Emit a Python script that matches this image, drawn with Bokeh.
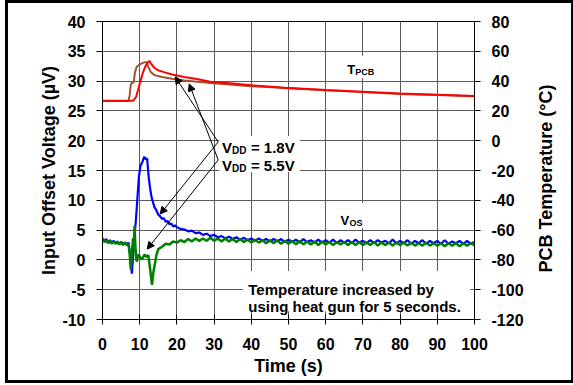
from bokeh.plotting import figure
from bokeh.layouts import row
from bokeh.models import (Range1d, LinearAxis, FixedTicker, Label, Arrow,
                          NormalHead, BoxAnnotation, PrintfTickFormatter)
from bokeh.embed import file_html
from bokeh.resources import INLINE

# ---------------- data ----------------
x_ticks = [0, 10, 20, 30, 40, 50, 60, 70, 80, 90, 100]
vos_ticks = [-10, -5, 0, 5, 10, 15, 20, 25, 30, 35, 40]
temp_ticks = [-120, -100, -80, -60, -40, -20, 0, 20, 40, 60, 80]

# VOS, VDD = 1.8V (blue), microvolts
blue_t = [0, 0.5, 1, 1.5, 2, 2.5, 3, 3.5, 4, 4.5, 5, 5.5, 6, 6.5, 7.0, 7.3, 7.6, 7.9, 8.2, 8.6,
          9.0, 9.4, 9.8, 10.2, 10.7, 11.2, 11.6, 12.0, 12.4, 12.8, 13.2, 13.6, 14.0, 14.5, 15.0,
          15.5, 16.0, 16.5, 17.0, 17.5, 18.0, 18.5, 19.0, 19.5] + list(range(20, 101))
blue_v = [3.6, 3.2, 3.5, 3.0, 3.3, 2.9, 3.2, 2.8, 3.1, 2.7, 3.0, 2.6, 2.9, 2.6, 2.9, 1.5, -0.5, -2.3, 0.5, 4.0,
          6.8, 10.5, 14.0, 15.8, 16.4, 17.3, 16.9, 17.0, 14.0, 12.0, 10.5, 9.6, 8.8, 8.3, 7.6,
          7.3, 6.9, 7.0, 6.4, 6.5, 6.0, 6.1, 5.6, 5.8,
          5.5, 5.2, 5.1, 4.8, 4.9, 4.5, 4.6, 4.2, 4.4, 4.0,
          4.2, 3.8, 4.0, 3.6, 3.9, 3.5, 3.8, 3.4, 3.7, 3.3,
          3.6, 3.2, 3.6, 3.2, 3.5, 3.1, 3.5, 3.1, 3.5, 3.0,
          3.4, 3.0, 3.4, 2.9, 3.5, 3.0, 3.3, 2.9, 3.4, 2.9,
          3.3, 2.9, 3.4, 2.8, 3.3, 2.9, 3.3, 2.8, 3.4, 2.9,
          3.2, 2.8, 3.3, 2.8, 3.3, 2.9, 3.2, 2.8, 3.4, 2.8,
          3.2, 2.8, 3.3, 2.7, 3.2, 2.8, 3.3, 2.7, 3.2, 2.8,
          3.2, 2.7, 3.3, 2.7, 3.1, 2.8, 3.2, 2.7, 3.2, 2.7,
          3.0]

# VOS, VDD = 5.5V (green), microvolts
green_t = [0, 0.5, 1, 1.5, 2, 2.5, 3, 3.5, 4, 4.5, 5, 5.5, 6, 6.5, 7.0, 7.3, 7.6, 7.9, 8.2, 8.4,
           8.6, 8.9, 9.2, 9.6, 10.0, 10.4, 10.8, 11.3, 11.8, 12.3, 12.8, 13.3, 13.7, 14.1, 14.5] + list(range(15, 101))
green_v = [3.6, 3.0, 3.3, 2.8, 3.2, 2.7, 3.1, 2.7, 3.0, 2.6, 3.0, 2.5, 2.9, 2.5, 2.6, 1.0, -1.6, 1.0, 3.6, 1.8,
           5.7, 1.5, -0.3, 0.9, 0.6, 0.1, 0.3, 0.9, 0.5, 0.8, -1.5, -4.2, -2.0, -0.6, 0.8,
           1.8, 2.2, 2.7, 2.6, 3.1, 2.9, 3.3, 3.0, 3.5, 3.1,
           3.6, 3.2, 3.6, 3.2, 3.7, 3.2, 3.6, 3.1, 3.6, 3.1,
           3.5, 3.0, 3.5, 3.0, 3.4, 2.9, 3.4, 2.9, 3.3, 2.8,
           3.3, 2.8, 3.3, 2.7, 3.2, 2.7, 3.2, 2.6, 3.2, 2.6,
           3.1, 2.6, 3.1, 2.5, 3.1, 2.6, 3.0, 2.5, 3.0, 2.6,
           3.0, 2.5, 3.0, 2.5, 3.0, 2.5, 2.9, 2.5, 3.0, 2.4,
           2.9, 2.5, 2.9, 2.4, 2.9, 2.5, 2.9, 2.4, 2.9, 2.4,
           2.8, 2.4, 2.9, 2.4, 2.8, 2.4, 2.8, 2.3, 2.8, 2.4,
           2.8, 2.3, 2.8, 2.4, 2.8, 2.5]

# PCB temperature (deg C), VDD = 1.8V (red)
red_t = [0, 4, 8.2, 9.0, 9.6, 10.2, 10.8, 11.4, 12.0, 12.6, 13.2, 14.0, 15.0, 16.5, 18.7,
         22, 25, 29, 35, 40, 49, 60, 70, 80, 90, 100]
red_temp = [26.8, 26.8, 26.8, 29.2, 34.4, 40.0, 45.2, 49.2, 52.0, 53.6, 51.2, 48.8, 47.2, 46.0, 44.4,
            42.8, 41.6, 39.6, 38.4, 37.2, 35.6, 34.0, 32.8, 31.6, 30.8, 30.0]

# PCB temperature (deg C), VDD = 5.5V (brown)
brown_t = [0, 4, 7.0, 7.3, 7.6, 7.9, 8.4, 8.7, 9.2, 10.0, 11.0, 11.8, 12.4, 13.0, 14.0, 16.0,
           18.7, 22, 29, 40, 50, 60, 70, 80, 90, 100]
brown_temp = [26.6, 26.6, 26.6, 30.4, 37.6, 38.8, 39.2, 45.6, 49.6, 51.2, 52.4, 52.8, 49.2, 46.0, 44.0, 42.8,
              41.6, 40.4, 38.8, 36.6, 35.2, 33.8, 32.6, 31.4, 30.6, 29.8]

FONT = "Liberation Sans"

# ---------------- main figure ----------------
p = figure(frame_width=372, frame_height=298,
           x_range=Range1d(0, 100), y_range=Range1d(-10, 40),
           output_backend="svg", toolbar_location=None,
           min_border_left=94, min_border_right=58, min_border_top=18, min_border_bottom=61)
p.background_fill_color = "white"
p.border_fill_color = "white"
p.outline_line_color = "black"
p.outline_line_width = 1

p.extra_y_ranges = {"temp": Range1d(-120, 80)}

left = p.left[0]
left.ticker = FixedTicker(ticks=vos_ticks)
left.axis_label = "Input Offset Voltage (µV)"
left.axis_label_standoff = 0
left.major_label_standoff = 11
left.major_tick_in = 0
left.major_tick_out = 6

bottom = p.below[0]
bottom.ticker = FixedTicker(ticks=x_ticks)
bottom.axis_label = "Time (s)"
bottom.axis_label_standoff = 3
bottom.major_label_standoff = 13
bottom.major_tick_in = 5
bottom.major_tick_out = 5

right = LinearAxis(y_range_name="temp", ticker=FixedTicker(ticks=temp_ticks))
right.major_label_standoff = 11
right.major_tick_in = 0
right.major_tick_out = 6
p.add_layout(right, "right")

for ax in (left, bottom, right):
    ax.formatter = PrintfTickFormatter(format="%d")
    ax.minor_tick_line_color = None
    ax.axis_line_color = "black"
    ax.major_tick_line_color = "black"
    ax.major_label_text_font = FONT
    ax.major_label_text_font_style = "bold"
    ax.major_label_text_font_size = "16px"
    ax.major_label_text_color = "black"
    ax.axis_label_text_font = FONT
    ax.axis_label_text_font_style = "bold"
    ax.axis_label_text_font_size = "18px"
    ax.axis_label_text_color = "black"

p.xgrid.ticker = FixedTicker(ticks=x_ticks)
p.ygrid.ticker = FixedTicker(ticks=vos_ticks)
p.grid.grid_line_color = "#5a5a5a"
p.grid.grid_line_width = 1

# ---------------- data lines ----------------
p.line(blue_t, blue_v, line_color="#0000ff", line_width=2.2)
p.line(green_t, green_v, line_color="#008000", line_width=2.5)
p.line(brown_t, brown_temp, line_color="#a0522d", line_width=2, y_range_name="temp")
p.line(red_t, red_temp, line_color="#ff0000", line_width=2, y_range_name="temp")

# ---------------- white boxes behind labels ----------------
for (l, r, t, b) in [(31.4, 53.1, 20.8, 14.75),
                     (63.4, 73.6, 34.24, 30.54),
                     (64.4, 74.6, 9.55, 5.34),
                     (37.8, 98.9, -1.88, -8.6)]:
    p.add_layout(BoxAnnotation(left=l, right=r, top=t, bottom=b,
                               fill_color="white", fill_alpha=1.0, line_color=None))

# ---------------- arrows ----------------
arrows = [
    (31.1, 19.79, 19.54, 30.71),   # VDD 1.8V -> red temp
    (31.1, 19.79, 15.51, 7.69),    # VDD 1.8V -> blue VOS
    (31.1, 16.76, 23.31, 29.53),   # VDD 5.5V -> brown temp
    (31.1, 16.76, 12.02, 1.81),    # VDD 5.5V -> green VOS
]
for (xs, ys, xe, ye) in arrows:
    p.add_layout(Arrow(x_start=xs, y_start=ys, x_end=xe, y_end=ye,
                       line_color="black", line_width=1,
                       end=NormalHead(size=7, fill_color="black", line_color="black", line_width=1)))


def lab(x, y, text, size, xo=0, yo=0):
    p.add_layout(Label(x=x, y=y, text=text, x_offset=xo, y_offset=yo,
                       text_font=FONT, text_font_style="bold", text_font_size=size,
                       text_color="black", text_baseline="alphabetic", text_align="left"))


# T_PCB
lab(65.8, 31.9, "T", "13px")
lab(65.8, 31.9, "PCB", "9px", xo=8, yo=-2)
# V_OS
lab(64.0, 6.63, "V", "13px")
lab(64.0, 6.63, "OS", "9px", xo=9, yo=-3)
# V_DD labels
lab(32.1, 18.83, "V", "15px")
lab(32.1, 18.83, "DD", "10px", xo=10, yo=-3)
lab(32.1, 18.83, "= 1.8V", "15px", xo=29)
lab(32.1, 15.92, "V", "15px")
lab(32.1, 15.92, "DD", "10px", xo=10, yo=-3)
lab(32.1, 15.92, "= 5.5V", "15px", xo=29)
# note
lab(39.2, -4.96, "Temperature increased by", "15px")
lab(39.2, -7.77, "using heat gun for 5 seconds.", "15px")

# ---------------- narrow strip carrying the right-hand axis title ----------------
q = figure(frame_width=10, frame_height=314, output_backend="svg", toolbar_location=None,
           x_range=Range1d(0, 1), y_range=Range1d(-120, 80),
           min_border_left=22, min_border_right=6, min_border_top=2, min_border_bottom=61)
q.outline_line_color = None
q.background_fill_color = "white"
q.border_fill_color = "white"
q.grid.visible = False
q.xaxis.visible = False
qa = q.yaxis[0]
qa.ticker = FixedTicker(ticks=temp_ticks)
qa.axis_line_color = None
qa.major_tick_line_color = None
qa.minor_tick_line_color = None
qa.major_label_text_color = None
qa.major_label_text_font_size = "1px"
qa.major_label_standoff = 0
qa.major_tick_out = 0
qa.major_tick_in = 0
qa.axis_label = "PCB Temperature (°C)"
qa.axis_label_standoff = 0
qa.axis_label_text_font = FONT
qa.axis_label_text_font_style = "bold"
qa.axis_label_text_font_size = "18px"
qa.axis_label_text_color = "black"

layout = row(p, q)
layout.styles = {"margin-left": "5px", "margin-top": "0px",
                 "border": "3px solid black", "box-sizing": "content-box"}

open("out.html", "w").write(file_html(layout, INLINE))
